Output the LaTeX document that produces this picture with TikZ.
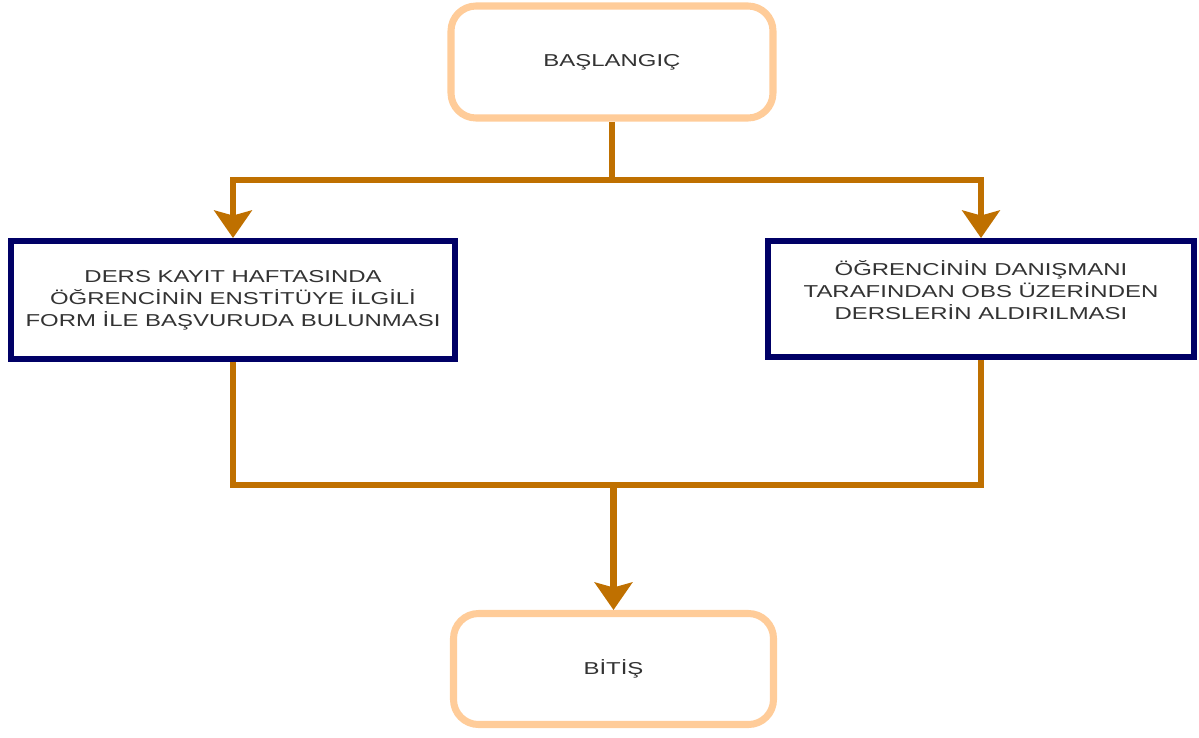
\documentclass[tikz,border=0pt]{standalone}
\usepackage{fontspec}
\setmainfont{Liberation Sans}[FakeStretch=1.39]
\usepackage{xcolor}
\usetikzlibrary{arrows.meta,positioning,calc}
\definecolor{peachline}{RGB}{255, 204, 153}
\definecolor{navyline}{RGB}{0, 0, 102}
\definecolor{flowbrown}{RGB}{191, 112, 0}
\definecolor{textgray}{RGB}{51, 51, 51}

\begin{document}
\begin{tikzpicture}[
    every node/.style={align=center, font=\fontsize{9.8}{12.5}\selectfont, text=textgray},
    terminal/.style={rectangle, rounded corners=0.5cm, minimum width=6.44cm, minimum height=2.24cm, inner sep=0pt, draw=peachline, fill=white, line width=4pt},
    process/.style={rectangle, minimum height=2.36cm, inner sep=0pt, draw=navyline, fill=white, line width=3.4pt},
    flow/.style={draw=flowbrown, line width=3.6pt, line join=miter},
    flowarrow/.style={flow, -{Stealth[length=0.55cm, width=0.75cm, inset=0.1cm]}}
]
\useasboundingbox (0,0) rectangle (23.98,-14.74);

% Start and end
\node[terminal] (start) at (12.24,-1.24) {BAŞLANGIÇ};
\node[terminal, minimum width=6.4cm, minimum height=2.22cm] (stop) at (12.27,-13.38) {BİTİŞ};

% Two parallel steps
\node[process, minimum width=8.88cm] (lstep) at (4.66,-6.0) {DERS KAYIT HAFTASINDA\\ÖĞRENCİNİN ENSTİTÜYE İLGİLİ\\FORM İLE BAŞVURUDA BULUNMASI};
\node[process, minimum width=8.52cm, minimum height=2.32cm, text depth=10pt] (rstep) at (19.62,-5.98) {ÖĞRENCİNİN DANIŞMANI\\TARAFINDAN OBS ÜZERİNDEN\\DERSLERİN ALDIRILMASI};

% Split and merge points
\coordinate (split) at (12.24,-3.6);
\coordinate (merge) at (12.27,-9.7);

\draw[flow] (start.south) -- (split);
\draw[flowarrow] (split) -| (lstep.north);
\draw[flowarrow] (split) -| (rstep.north);
\draw[flow] (lstep.south) |- (merge) -| (rstep.south);
\draw[flowarrow] (merge) -- (stop.north);

\end{tikzpicture}
\end{document}
